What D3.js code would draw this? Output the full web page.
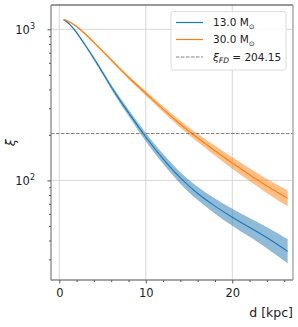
<!DOCTYPE html>
<html>
<head>
<style>
  body {
    margin: 0;
    background-color: #fff;
  }
  svg text {
    font-family: 'DejaVu Sans', sans-serif;
    fill: #222;
  }
</style>
<script src="https://d3js.org/d3.v7.min.js"></script>
</head>
<body>
<script>
// distance grid (kpc) and xi for both masses, with the shaded range
const dist = [0.5, 1, 2, 3, 4, 5, 6.5, 8, 10, 12, 14, 16, 18, 20, 22, 24, 26.4];

const blueMid = [1159, 1117, 959, 785, 643, 518, 372, 281, 192, 138, 102.8, 81.3, 67.3, 56.9, 48.8, 41.9, 33.9];
const blueLo  = [1148, 1104, 944, 769, 627, 503, 358, 268, 180, 128, 94.2, 73.5, 60.0, 50.0, 42.3, 35.7, 28.2];
const blueHi  = [1170, 1130, 975, 801, 660, 534, 387, 295, 204, 149, 112, 90.0, 75.5, 64.7, 56.3, 49.1, 40.8];

const orangeMid = [1161, 1135, 1052, 933, 820, 718, 586, 479, 378, 296, 234, 190.5, 157, 130, 109, 91.6, 76];
const orangeLo  = [1153, 1125, 1040, 920, 807, 705, 573, 466, 365, 283, 222, 179, 146, 119, 99.0, 82.2, 67.3];
const orangeHi  = [1169, 1146, 1064, 946, 833, 731, 600, 492, 391, 309, 247, 203, 169, 142, 120, 102, 85.9];

const xiFD = 204.15;
const xTicks = [0, 10, 20];
const xMinor = [2, 4, 6, 8, 12, 14, 16, 18, 22, 24, 26];
const yTicks = [100, 1000];
const legendLabels = ['13.0 M', '30.0 M'];

const width = 298, height = 327;
const pLeft = 51, pRight = 293, pTop = 5, pBottom = 280;

const svg = d3.select('body')
  .append('svg')
  .attr('width', width)
  .attr('height', height);

const x = d3.scaleLinear().domain([-0.96, 27.02]).range([pLeft, pRight]);
const y = d3.scaleLog().domain([21.9, 1449]).range([pBottom, pTop]);

// grid
const grid = svg.append('g');
xTicks.forEach(t => {
  grid.append('line')
    .attr('x1', x(t)).attr('x2', x(t))
    .attr('y1', pTop).attr('y2', pBottom)
    .attr('stroke', '#d6d6d6').attr('stroke-width', 1);
});
yTicks.forEach(t => {
  grid.append('line')
    .attr('x1', pLeft).attr('x2', pRight)
    .attr('y1', y(t)).attr('y2', y(t))
    .attr('stroke', '#d6d6d6').attr('stroke-width', 1);
});

const makeSeries = (mid, lo, hi) => dist.map((d, i) => ({ d: d, mid: mid[i], lo: lo[i], hi: hi[i] }));

const series = [
  { data: makeSeries(blueMid, blueLo, blueHi), color: '#1f77b4' },
  { data: makeSeries(orangeMid, orangeLo, orangeHi), color: '#ff7f0e' },
];

const area = d3.area()
  .x(p => x(p.d))
  .y0(p => y(p.lo))
  .y1(p => y(p.hi))
  .curve(d3.curveBasis);

const line = d3.line()
  .x(p => x(p.d))
  .y(p => y(p.mid))
  .curve(d3.curveBasis);

series.forEach(s => {
  svg.append('path')
    .attr('d', area(s.data))
    .attr('fill', s.color)
    .attr('fill-opacity', 0.5);
});
series.forEach(s => {
  svg.append('path')
    .attr('d', line(s.data))
    .attr('fill', 'none')
    .attr('stroke', s.color)
    .attr('stroke-width', 1.1);
});

// threshold line
svg.append('line')
  .attr('x1', pLeft).attr('x2', pRight)
  .attr('y1', y(xiFD)).attr('y2', y(xiFD))
  .attr('stroke', '#808080')
  .attr('stroke-width', 1)
  .attr('stroke-dasharray', '3.5,1.5');

// spines
svg.append('line').attr('x1', pLeft).attr('x2', pRight).attr('y1', pTop).attr('y2', pTop)
  .attr('stroke', '#333').attr('stroke-width', 1);
svg.append('line').attr('x1', pRight).attr('x2', pRight).attr('y1', pTop).attr('y2', pBottom)
  .attr('stroke', '#999').attr('stroke-width', 1.2);
svg.append('line').attr('x1', pLeft).attr('x2', pLeft).attr('y1', pTop).attr('y2', pBottom + 0.6)
  .attr('stroke', '#888').attr('stroke-width', 1.3);
svg.append('line').attr('x1', pLeft).attr('x2', pRight).attr('y1', pBottom).attr('y2', pBottom)
  .attr('stroke', '#888').attr('stroke-width', 1.3);

// x axis ticks
const xAxis = svg.append('g')
  .attr('transform', `translate(0,${pBottom})`)
  .call(d3.axisBottom(x).tickValues(xTicks).tickSize(3.5).tickFormat(d3.format('d')));
xAxis.select('.domain').remove();
xAxis.selectAll('.tick line').attr('stroke', '#555');
xAxis.selectAll('.tick text').attr('font-size', 11.5).attr('fill', '#222').attr('dy', '0.95em');

svg.append('g')
  .attr('transform', `translate(0,${pBottom})`)
  .call(d3.axisBottom(x).tickValues(xMinor).tickSize(2).tickFormat(''))
  .call(g => g.select('.domain').remove())
  .call(g => g.selectAll('.tick line').attr('stroke', '#555'));

// y axis ticks
const yMinor = [];
[10, 100, 1000].forEach(k => {
  for (let m = 2; m <= 9; m++) {
    const v = m * k;
    if (v > 21.9 && v < 1449) yMinor.push(v);
  }
});

svg.append('g')
  .attr('transform', `translate(${pLeft},0)`)
  .call(d3.axisLeft(y).tickValues(yMinor).tickSize(2).tickFormat(''))
  .call(g => g.select('.domain').remove())
  .call(g => g.selectAll('.tick line').attr('stroke', '#555'));

const yAxis = svg.append('g')
  .attr('transform', `translate(${pLeft},0)`)
  .call(d3.axisLeft(y).tickValues(yTicks).tickSize(3.5).tickFormat(''));
yAxis.select('.domain').remove();
yAxis.selectAll('.tick line').attr('stroke', '#555');
yAxis.selectAll('.tick').each(function (v) {
  const t = d3.select(this).append('text')
    .attr('x', -16)
    .attr('y', 0)
    .attr('dy', '0.35em')
    .attr('text-anchor', 'end')
    .attr('font-size', 11.5)
    .attr('fill', '#222')
    .text('10');
  t.append('tspan')
    .attr('font-size', 8)
    .attr('dy', -5)
    .text(Math.round(Math.log10(v)));
});

// axis labels
svg.append('text')
  .attr('transform', `translate(15,${(pTop + pBottom) / 2}) rotate(-90)`)
  .attr('text-anchor', 'middle')
  .attr('font-size', 13)
  .attr('font-style', 'italic')
  .text('ξ');

svg.append('text')
  .attr('x', pRight)
  .attr('y', 317)
  .attr('text-anchor', 'end')
  .attr('font-size', 12.5)
  .text('d [kpc]');

// legend
const legend = svg.append('g');
legend.append('rect')
  .attr('x', 171).attr('y', 11.5)
  .attr('width', 115).attr('height', 58.5)
  .attr('rx', 2.5)
  .attr('fill', '#fff').attr('fill-opacity', 0.85)
  .attr('stroke', '#dcdcdc').attr('stroke-width', 1);

const rows = [22.5, 39.5, 57];
series.forEach((s, i) => {
  legend.append('line')
    .attr('x1', 176).attr('x2', 203)
    .attr('y1', rows[i]).attr('y2', rows[i])
    .attr('stroke', s.color).attr('stroke-width', 1.2);
  const t = legend.append('text')
    .attr('x', 213).attr('y', rows[i])
    .attr('dy', '0.35em')
    .attr('font-size', 10.5)
    .text(legendLabels[i]);
  t.append('tspan')
    .attr('font-size', 7)
    .attr('dy', 3)
    .text('⊙');
});

legend.append('line')
  .attr('x1', 176).attr('x2', 203)
  .attr('y1', rows[2]).attr('y2', rows[2])
  .attr('stroke', '#808080').attr('stroke-width', 1)
  .attr('stroke-dasharray', '3.5,1.5');
const fd = legend.append('text')
  .attr('x', 213).attr('y', rows[2])
  .attr('dy', '0.35em')
  .attr('font-size', 10.5);
fd.append('tspan').attr('font-style', 'italic').text('ξ');
fd.append('tspan').attr('font-style', 'italic').attr('font-size', 7.5).attr('dy', 2.5).text('FD');
fd.append('tspan').attr('dy', -2.5).text(' = ' + xiFD.toFixed(2));
</script>
</body>
</html>
